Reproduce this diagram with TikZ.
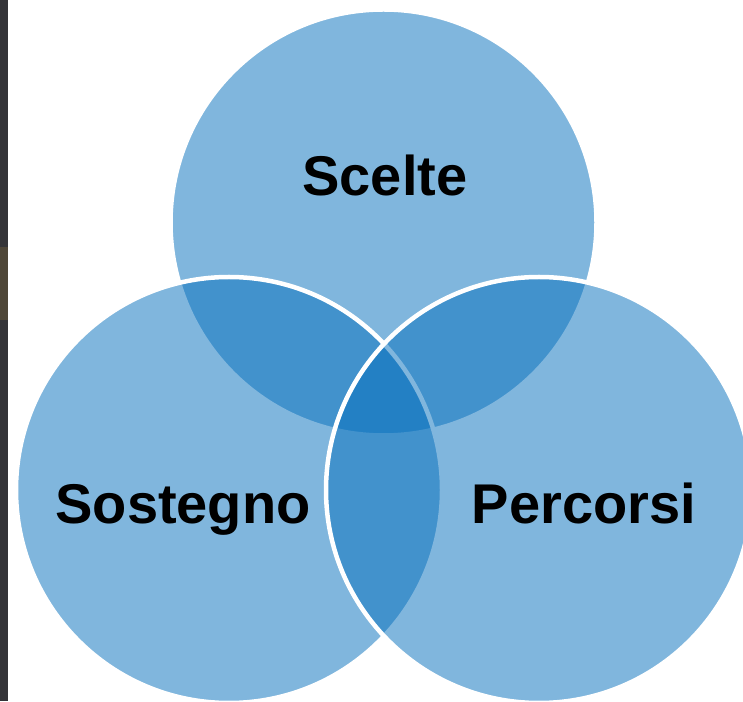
\documentclass[tikz,border=0pt]{standalone}
\usepackage{fontspec}
\setmainfont{Liberation Sans}
\definecolor{vennblue}{RGB}{7,112,189}
\definecolor{stripdark}{RGB}{52,52,56}
\definecolor{stripbrown}{RGB}{78,70,56}
\begin{document}
\begin{tikzpicture}[x=1pt, y=1pt,
  menge/.style={fill=vennblue, fill opacity=0.51, draw=white, line width=4.5pt},
  etikett/.style={font=\fontsize{56}{60}\selectfont\bfseries, text=black, anchor=base, inner sep=0pt}]
\useasboundingbox (0,0) rectangle (743,701);
\clip (0,0) rectangle (743,701);
% Hintergrund
\fill[white] (0,0) rectangle (743,701);
\fill[stripdark] (0,0) rectangle (8,701);
\fill[stripbrown] (0,381) rectangle (8,454);

% Kreise
\coordinate (CS) at (383.5,478.5);
\coordinate (CL) at (229,211);
\coordinate (CR) at (539,211);
\draw[menge] (CS) circle (213);
\draw[menge] (CL) circle (213);
\draw[menge] (CR) circle (213);

% Beschriftungen
\node[etikett] (Scelte)   at (385,505) {Scelte};
\node[etikett] (Sostegno) at (183,177) {Sostegno};
\node[etikett] (Percorsi) at (584,177) {Percorsi};

\end{tikzpicture}
\end{document}
